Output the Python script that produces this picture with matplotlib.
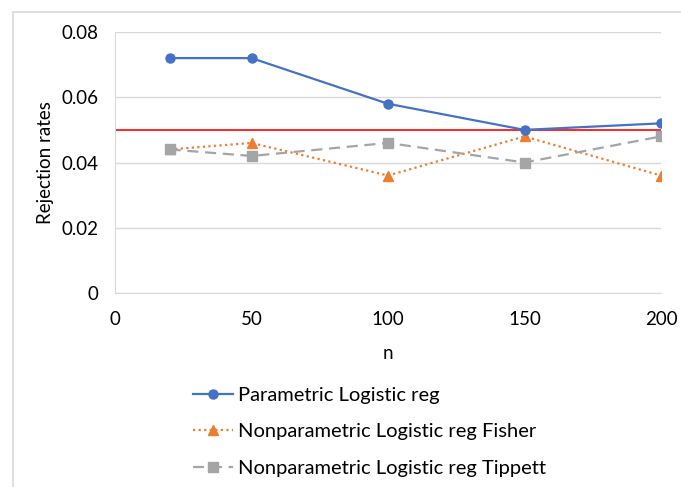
import matplotlib.pyplot as plt
from matplotlib.patches import Rectangle

plt.rcParams['font.family'] = ['Lato', 'DejaVu Sans']

# data
n_values = [20, 50, 100, 150, 200]
parametric = [0.072, 0.072, 0.058, 0.050, 0.052]
fisher = [0.044, 0.046, 0.036, 0.048, 0.036]
tippett = [0.044, 0.042, 0.046, 0.040, 0.048]
nominal_level = 0.05
y_ticks = [0, 0.02, 0.04, 0.06, 0.08]
x_ticks = [0, 50, 100, 150, 200]

W, H = 681, 487
fig = plt.figure(figsize=(W / 100, H / 100), dpi=100)

# chart frame (Excel style), runs off the right and bottom edges
fig.patches.append(Rectangle((13 / W, -0.1), 1.2, 1.1 - 12 / H, transform=fig.transFigure,
                             fill=False, edgecolor='#d9d9d9', linewidth=1.2))

ax = fig.add_axes([115 / W, 1 - 293 / H, (661 - 115) / W, (293 - 32) / H])

ax.plot(n_values, parametric, color='#4472C4', lw=1.6, marker='o', ms=6.5,
        label='Parametric Logistic reg', zorder=4)
ax.plot(n_values, fisher, color='#ED7D31', lw=1.6, ls=(0, (1, 1.5)), marker='^', ms=7,
        label='Nonparametric Logistic reg Fisher', zorder=3)
ax.plot(n_values, tippett, color='#A5A5A5', lw=1.6, ls=(0, (5, 3)), marker='s', ms=6.5,
        label='Nonparametric Logistic reg Tippett', zorder=3)
ax.axhline(nominal_level, color='#FF0000', lw=1.2, zorder=2)

ax.set_xlim(0, 200)
ax.set_ylim(0, 0.08)
ax.set_xticks(x_ticks)
ax.set_yticks(y_ticks)
ax.set_yticklabels(['0', '0.02', '0.04', '0.06', '0.08'])
ax.yaxis.grid(True, color='#d9d9d9', lw=1)
ax.set_axisbelow(True)
for side in ['top', 'right']:
    ax.spines[side].set_visible(False)
for side in ['left', 'bottom']:
    ax.spines[side].set_color('#d9d9d9')
ax.tick_params(length=0, labelsize=13.5, pad=13)
ax.tick_params(axis='y', pad=12)

ax.set_xlabel('n', fontsize=13.5, labelpad=12)
ax.set_ylabel('Rejection rates', fontsize=13.5, labelpad=5)

ax.legend(loc='upper left', bbox_to_anchor=(175 / W, 1 - 369 / H),
          bbox_transform=fig.transFigure, frameon=False, fontsize=14.5,
          handlelength=2.0, labelspacing=0.95, handletextpad=0.25)

fig.savefig('out.png', dpi=100)
